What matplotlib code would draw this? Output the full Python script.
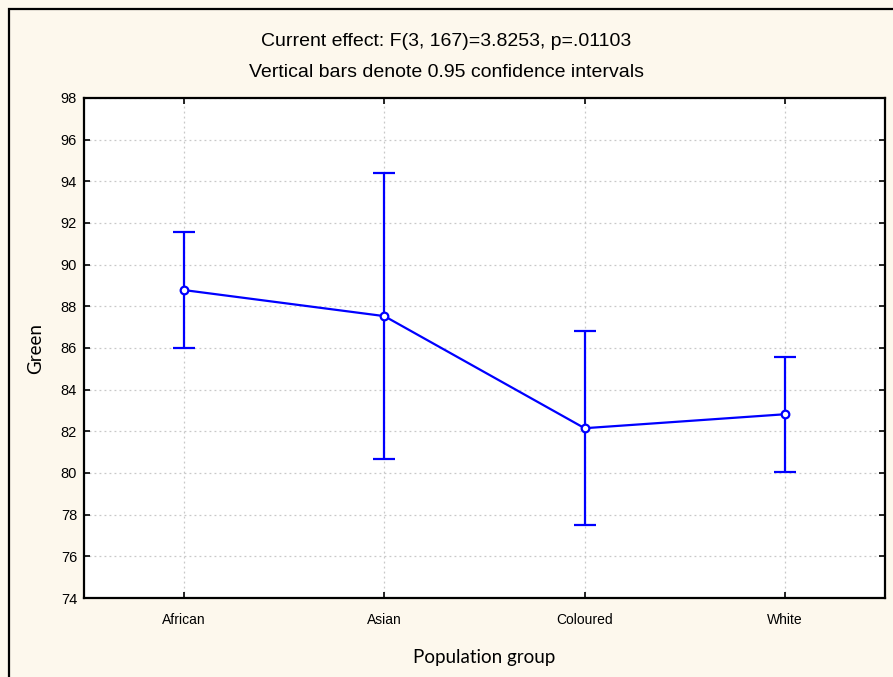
import numpy as np
import matplotlib.pyplot as plt
from matplotlib.patches import Rectangle

# ---------------------------------------------------------------
groups = ['African', 'Asian', 'Coloured', 'White']
means  = [88.78, 87.53, 82.15, 82.82]
lower  = [86.00, 80.66, 77.50, 80.06]
upper  = [91.57, 94.40, 86.83, 85.58]

title1 = 'Current effect: F(3, 167)=3.8253, p=.01103'
title2 = 'Vertical bars denote 0.95 confidence intervals'
ylabel = 'Green'
xlabel = 'Population group'
yticks = np.arange(74, 99, 2)

W, H = 893, 677
bg = '#fdf8ed'
blue = '#0000ff'

fig = plt.figure(figsize=(W/100, H/100), dpi=100, facecolor=bg)
ax = fig.add_axes([84/W, 1-598/H, (885-84)/W, (598-98)/H])
ax.set_facecolor('white')

x = np.arange(len(groups))
m = np.array(means)
err = np.vstack([m - np.array(lower), np.array(upper) - m])

ax.errorbar(x, m, yerr=err, color=blue, lw=1.6, elinewidth=1.6,
            capsize=8, capthick=1.6, marker='o', ms=5.5,
            mfc='white', mec=blue, mew=1.6, zorder=3)

ax.set_xlim(-0.5, 3.5)
ax.set_ylim(74, 98)
ax.set_yticks(yticks)
ax.set_xticks(x)
ax.set_xticklabels(groups, fontsize=10, family='Liberation Sans')
ax.set_yticklabels([str(v) for v in yticks], fontsize=10.5, family='Liberation Sans')

ax.grid(True, color='#c8c8c8', linestyle=(0, (1.5, 2.5)), linewidth=0.9)
ax.set_axisbelow(True)
ax.tick_params(direction='in', length=4, width=1.2, top=True, right=True,
               labeltop=False, labelright=False, pad=5)
ax.tick_params(axis='x', pad=11)
for s in ax.spines.values():
    s.set_linewidth(1.6)

ax.set_ylabel(ylabel, fontsize=13.5, family='Lato', labelpad=12)
ax.set_xlabel(xlabel, fontsize=13.5, family='Lato', labelpad=16)

fig.text(0.5, 1-46/H, title1, ha='center', va='baseline', fontsize=14,
         family='Liberation Sans')
fig.text(0.5, 1-77/H, title2, ha='center', va='baseline', fontsize=14,
         family='Liberation Sans')

# outer frame (top and left edge visible only)
fig.add_artist(Rectangle((9/W, -0.1), 1.2, 1.1 - 9/H,
                         transform=fig.transFigure, fill=False,
                         edgecolor='black', lw=1.6))

fig.savefig('out.png', dpi=100, facecolor=bg)
